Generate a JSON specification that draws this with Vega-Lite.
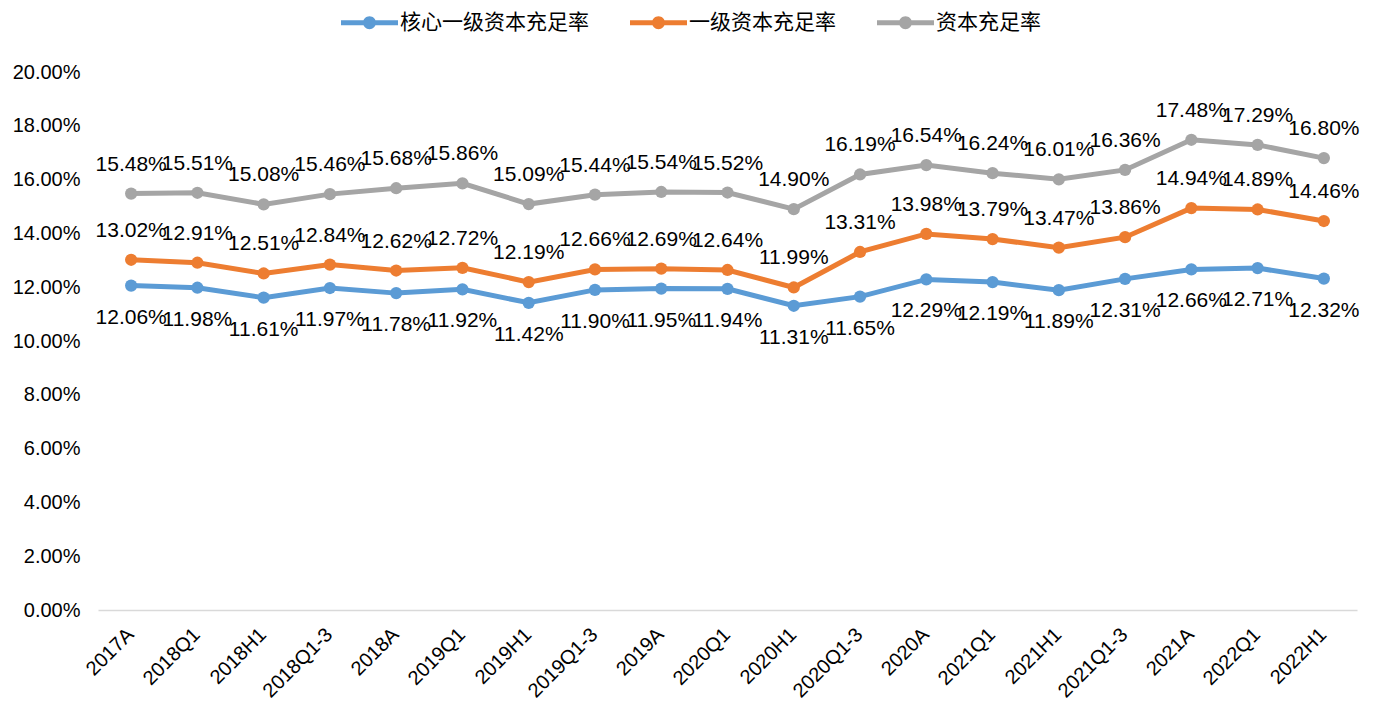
{
  "$schema": "https://vega.github.io/schema/vega-lite/v6.json",
  "width": 1259,
  "height": 538,
  "autosize": {"type": "none"},
  "padding": {"left": 98, "top": 72, "right": 20, "bottom": 94},
  "background": "white",
  "config": {
    "view": {"stroke": null},
    "font": "Liberation Sans"
  },
  "data": {
    "values": [
      {"period": "2017A", "series": "核心一级资本充足率", "value": 0.1206},
      {"period": "2018Q1", "series": "核心一级资本充足率", "value": 0.1198},
      {"period": "2018H1", "series": "核心一级资本充足率", "value": 0.1161},
      {"period": "2018Q1-3", "series": "核心一级资本充足率", "value": 0.1197},
      {"period": "2018A", "series": "核心一级资本充足率", "value": 0.1178},
      {"period": "2019Q1", "series": "核心一级资本充足率", "value": 0.1192},
      {"period": "2019H1", "series": "核心一级资本充足率", "value": 0.1142},
      {"period": "2019Q1-3", "series": "核心一级资本充足率", "value": 0.1190},
      {"period": "2019A", "series": "核心一级资本充足率", "value": 0.1195},
      {"period": "2020Q1", "series": "核心一级资本充足率", "value": 0.1194},
      {"period": "2020H1", "series": "核心一级资本充足率", "value": 0.1131},
      {"period": "2020Q1-3", "series": "核心一级资本充足率", "value": 0.1165},
      {"period": "2020A", "series": "核心一级资本充足率", "value": 0.1229},
      {"period": "2021Q1", "series": "核心一级资本充足率", "value": 0.1219},
      {"period": "2021H1", "series": "核心一级资本充足率", "value": 0.1189},
      {"period": "2021Q1-3", "series": "核心一级资本充足率", "value": 0.1231},
      {"period": "2021A", "series": "核心一级资本充足率", "value": 0.1266},
      {"period": "2022Q1", "series": "核心一级资本充足率", "value": 0.1271},
      {"period": "2022H1", "series": "核心一级资本充足率", "value": 0.1232},
      {"period": "2017A", "series": "一级资本充足率", "value": 0.1302},
      {"period": "2018Q1", "series": "一级资本充足率", "value": 0.1291},
      {"period": "2018H1", "series": "一级资本充足率", "value": 0.1251},
      {"period": "2018Q1-3", "series": "一级资本充足率", "value": 0.1284},
      {"period": "2018A", "series": "一级资本充足率", "value": 0.1262},
      {"period": "2019Q1", "series": "一级资本充足率", "value": 0.1272},
      {"period": "2019H1", "series": "一级资本充足率", "value": 0.1219},
      {"period": "2019Q1-3", "series": "一级资本充足率", "value": 0.1266},
      {"period": "2019A", "series": "一级资本充足率", "value": 0.1269},
      {"period": "2020Q1", "series": "一级资本充足率", "value": 0.1264},
      {"period": "2020H1", "series": "一级资本充足率", "value": 0.1199},
      {"period": "2020Q1-3", "series": "一级资本充足率", "value": 0.1331},
      {"period": "2020A", "series": "一级资本充足率", "value": 0.1398},
      {"period": "2021Q1", "series": "一级资本充足率", "value": 0.1379},
      {"period": "2021H1", "series": "一级资本充足率", "value": 0.1347},
      {"period": "2021Q1-3", "series": "一级资本充足率", "value": 0.1386},
      {"period": "2021A", "series": "一级资本充足率", "value": 0.1494},
      {"period": "2022Q1", "series": "一级资本充足率", "value": 0.1489},
      {"period": "2022H1", "series": "一级资本充足率", "value": 0.1446},
      {"period": "2017A", "series": "资本充足率", "value": 0.1548},
      {"period": "2018Q1", "series": "资本充足率", "value": 0.1551},
      {"period": "2018H1", "series": "资本充足率", "value": 0.1508},
      {"period": "2018Q1-3", "series": "资本充足率", "value": 0.1546},
      {"period": "2018A", "series": "资本充足率", "value": 0.1568},
      {"period": "2019Q1", "series": "资本充足率", "value": 0.1586},
      {"period": "2019H1", "series": "资本充足率", "value": 0.1509},
      {"period": "2019Q1-3", "series": "资本充足率", "value": 0.1544},
      {"period": "2019A", "series": "资本充足率", "value": 0.1554},
      {"period": "2020Q1", "series": "资本充足率", "value": 0.1552},
      {"period": "2020H1", "series": "资本充足率", "value": 0.1490},
      {"period": "2020Q1-3", "series": "资本充足率", "value": 0.1619},
      {"period": "2020A", "series": "资本充足率", "value": 0.1654},
      {"period": "2021Q1", "series": "资本充足率", "value": 0.1624},
      {"period": "2021H1", "series": "资本充足率", "value": 0.1601},
      {"period": "2021Q1-3", "series": "资本充足率", "value": 0.1636},
      {"period": "2021A", "series": "资本充足率", "value": 0.1748},
      {"period": "2022Q1", "series": "资本充足率", "value": 0.1729},
      {"period": "2022H1", "series": "资本充足率", "value": 0.1680}
    ]
  },
  "encoding": {
    "x": {
      "field": "period",
      "type": "ordinal",
      "sort": null,
      "scale": {"type": "point", "padding": 0.5},
      "axis": {
        "title": null,
        "labelAngle": -45,
        "labelFontSize": 20,
        "labelColor": "#000000",
        "labelPadding": 14,
        "labelOffset": -8,
        "ticks": false,
        "domainColor": "#d9d9d9",
        "domainWidth": 1.5,
        "grid": false
      }
    },
    "y": {
      "field": "value",
      "type": "quantitative",
      "scale": {"domain": [0, 0.2], "nice": false},
      "axis": {
        "title": null,
        "values": [0, 0.02, 0.04, 0.06, 0.08, 0.1, 0.12, 0.14, 0.16, 0.18, 0.2],
        "format": ".2%",
        "labelFontSize": 20,
        "labelColor": "#000000",
        "labelPadding": 18,
        "ticks": false,
        "domain": false,
        "grid": false
      }
    },
    "color": {
      "field": "series",
      "type": "nominal",
      "sort": ["核心一级资本充足率", "一级资本充足率", "资本充足率"],
      "scale": {
        "domain": ["核心一级资本充足率", "一级资本充足率", "资本充足率"],
        "range": ["#5B9BD5", "#ED7D31", "#A5A5A5"]
      },
      "legend": {
        "title": null,
        "orient": "none",
        "direction": "horizontal",
        "legendX": 261,
        "legendY": -60,
        "labelFont": "Noto Sans CJK SC",
        "labelFontSize": 21,
        "labelColor": "#000000",
        "labelLimit": 400,
        "symbolType": "M-4.75,-0.42H4.75V0.42H-4.75Z M1.08,0A1.08,1.08 0 1,1 -1.08,0A1.08,1.08 0 1,1 1.08,0Z",
        "symbolSize": 144,
        "symbolStrokeWidth": 0,
        "labelOffset": 20,
        "columnPadding": 41,
        "encode": {
          "symbols": {"update": {"fill": {"scale": "color", "field": "value"}, "strokeWidth": {"value": 0}}}
        }
      }
    }
  },
  "layer": [
    {
      "mark": {"type": "line", "strokeWidth": 5, "point": {"filled": true, "size": 150, "opacity": 1}}
    },
    {
      "transform": [{"filter": "datum.series === '资本充足率'"}],
      "mark": {"type": "text", "dy": -29, "fontSize": 21, "baseline": "middle"},
      "encoding": {"text": {"field": "value", "type": "quantitative", "format": ".2%"}, "color": {"value": "#000000"}}
    },
    {
      "transform": [{"filter": "datum.series === '一级资本充足率'"}],
      "mark": {"type": "text", "dy": -29, "fontSize": 21, "baseline": "middle"},
      "encoding": {"text": {"field": "value", "type": "quantitative", "format": ".2%"}, "color": {"value": "#000000"}}
    },
    {
      "transform": [{"filter": "datum.series === '核心一级资本充足率'"}],
      "mark": {"type": "text", "dy": 32, "fontSize": 21, "baseline": "middle"},
      "encoding": {"text": {"field": "value", "type": "quantitative", "format": ".2%"}, "color": {"value": "#000000"}}
    }
  ]
}
